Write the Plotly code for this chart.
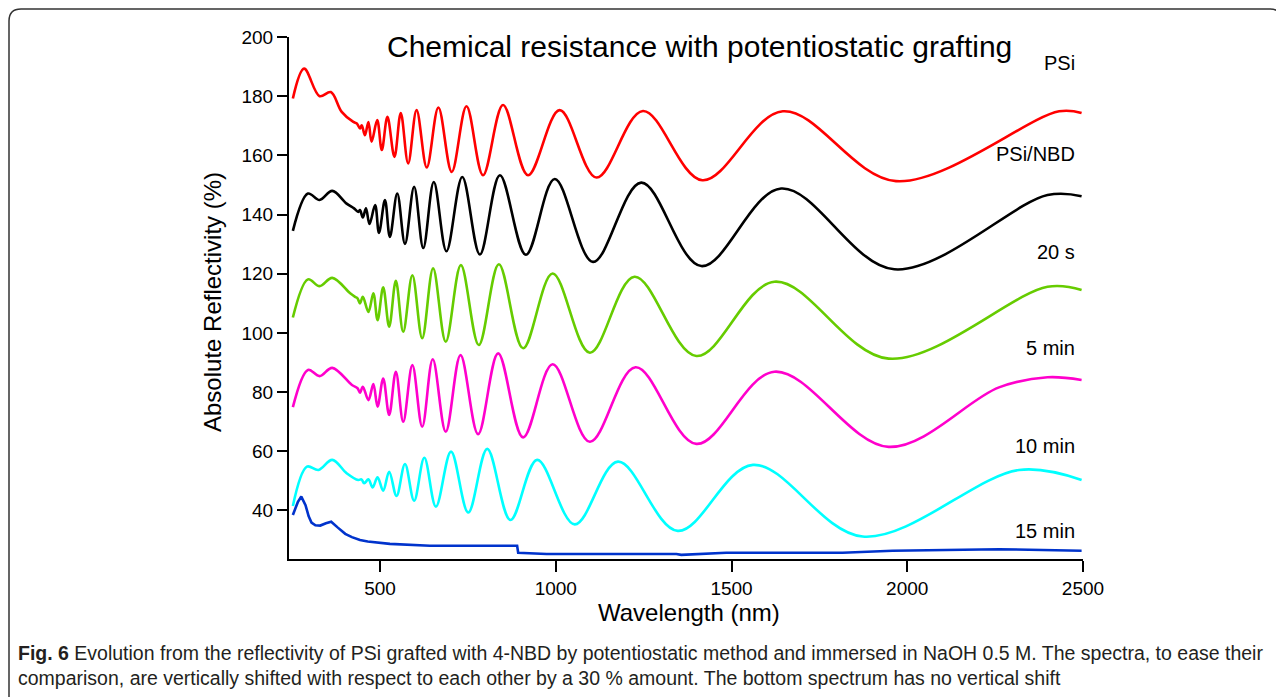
import plotly.graph_objects as go

# ---------------- data ----------------
wl_psi = [252, 284, 328, 360, 391, 424, 434, 443, 448, 457, 467, 476, 492, 505, 521, 541, 559, 580, 604, 633,
          666, 704, 746, 793, 850, 921, 1011, 1116, 1248, 1417, 1646, 1968, 2432, 2496]
r_psi = [179.2, 189.3, 180.0, 181.4, 174.7, 171.3, 170.8, 169.1, 170.2, 166.8, 171.3, 164.6, 171.9, 161.8, 173.0,
         159.5, 174.3, 157.3, 175.3, 155.9, 176.2, 154.4, 176.6, 153.3, 177.0, 153.3, 175.3, 152.5, 175.0, 151.6,
         174.9, 151.3, 174.9, 174.3]

wl_nbd = [252, 295, 328, 364, 405, 426, 438, 443, 451, 460, 470, 486, 497, 514, 528, 549, 571, 597, 623, 653,
          689, 734, 784, 841, 915, 997, 1106, 1243, 1414, 1641, 1963, 2399, 2496]
r_nbd = [134.5, 147.1, 144.9, 148.0, 143.7, 142.1, 140.9, 141.5, 139.0, 142.1, 136.8, 143.2, 133.8, 144.9, 132.4,
         147.1, 130.1, 149.4, 128.7, 151.0, 127.6, 152.7, 126.5, 153.3, 126.4, 152.0, 124.0, 150.8, 122.6, 148.8,
         121.5, 146.6, 146.2]

wl_20s = [252, 295, 328, 364, 415, 429, 436, 443, 451, 467, 481, 493, 509, 526, 545, 566, 592, 620, 651, 687,
          730, 781, 838, 907, 991, 1097, 1224, 1400, 1622, 1947, 2399, 2496]
r_20s = [105.2, 118.1, 115.8, 118.6, 113.4, 112.2, 111.7, 110.0, 112.2, 107.1, 113.4, 104.3, 115.4, 102.1, 117.6,
         100.4, 119.5, 98.2, 121.8, 97.0, 122.9, 95.9, 123.2, 94.8, 120.1, 93.3, 119.0, 92.2, 117.3, 91.3, 115.6,
         114.5]

wl_5min = [252, 295, 328, 364, 420, 436, 443, 451, 467, 481, 493, 509, 526, 545, 566, 592, 620, 650, 687, 729,
           779, 836, 907, 991, 1097, 1227, 1400, 1622, 1947, 2261, 2399, 2496]
r_5min = [74.9, 87.5, 85.4, 88.2, 82.4, 81.3, 79.8, 81.8, 77.3, 82.7, 75.1, 84.6, 72.3, 86.9, 70.0, 89.1, 68.3,
          91.1, 66.6, 92.5, 65.8, 93.1, 64.7, 89.4, 63.2, 88.4, 62.5, 86.9, 61.5, 81.6, 85.0, 84.1]

wl_10min = [252, 292, 325, 364, 405, 438, 447, 455, 467, 479, 493, 509, 526, 547, 571, 597, 626, 659, 702, 751,
            805, 871, 947, 1054, 1177, 1347, 1561, 1873, 2318, 2496]
r_10min = [41.5, 54.8, 53.7, 57.1, 52.6, 50.3, 50.5, 49.2, 50.5, 47.8, 51.2, 46.7, 53.1, 44.9, 55.7, 43.3, 57.8,
           41.3, 59.9, 39.3, 60.8, 36.8, 57.1, 35.3, 56.5, 33.1, 55.4, 31.2, 53.7, 50.3]

wl_15min = [252, 266, 276, 288, 297, 305, 316, 330, 346, 361, 380, 401, 420, 443, 465, 491, 528, 642, 784, 890,
            893, 974, 1163, 1343, 1357, 1485, 1816, 1958, 2261, 2496]
r_15min = [38.5, 42.8, 44.7, 41.8, 38.0, 35.9, 35.0, 34.9, 35.7, 36.2, 34.2, 32.1, 31.0, 30.0, 29.5, 29.1, 28.7,
           28.1, 28.1, 28.1, 25.7, 25.3, 25.3, 25.3, 25.0, 25.7, 25.7, 26.4, 26.9, 26.4]

series_names = ["PSi", "PSi/NBD", "20 s", "5 min", "10 min", "15 min"]
label_y = [191.2, 160.6, 127.2, 95.0, 61.8, 33.1]
x_ticks = [500, 1000, 1500, 2000, 2500]
y_ticks = [40, 60, 80, 100, 120, 140, 160, 180, 200]

title_text = "Chemical resistance with potentiostatic grafting"
x_title = "Wavelength (nm)"
y_title = "Absolute Reflectivity (%)"
caption_1 = ("<b>Fig. 6</b> Evolution from the reflectivity of PSi grafted with 4-NBD by potentiostatic method "
             "and immersed in NaOH 0.5 M. The spectra, to ease their")
caption_2 = ("comparison, are vertically shifted with respect to each other by a 30 % amount. "
             "The bottom spectrum has no vertical shift")

# ---------------- styling ----------------
OFF = 8                      # the page body adds an 8px margin
W, H = 1284 - OFF, 697 - OFF
ML, MR, MT, MB = 281, 201, 29, 138
PW, PH = W - ML - MR, H - MT - MB


def px(xp):
    """reference page pixel x -> paper fraction"""
    return (xp - OFF - ML) / PW


def py(yp):
    """reference page pixel y -> paper fraction"""
    return (H - MB - (yp - OFF)) / PH


FONT = "Liberation Sans, Arial, Helvetica, sans-serif"
colors = ["#ff0000", "#000000", "#66cc00", "#ff00cc", "#00ffff", "#0033cc"]
xs = [wl_psi, wl_nbd, wl_20s, wl_5min, wl_10min, wl_15min]
ys = [r_psi, r_nbd, r_20s, r_5min, r_10min, r_15min]

fig = go.Figure()
for name, x, y, c in zip(series_names, xs, ys, colors):
    shape = "linear" if name == "15 min" else "spline"
    fig.add_trace(go.Scatter(x=x, y=y, mode="lines", name=name,
                             line=dict(color=c, width=2.6, shape=shape, smoothing=1.0),
                             showlegend=False, hoverinfo="skip"))

for name, ly in zip(series_names, label_y):
    fig.add_annotation(x=2483, y=ly, xref="x", yref="y", text=name, showarrow=False,
                       xanchor="right", yanchor="middle", font=dict(family=FONT, size=20, color="black"))

fig.add_annotation(x=px(699), y=py(46), xref="paper", yref="paper", text=title_text, showarrow=False,
                   xanchor="center", yanchor="middle", font=dict(family=FONT, size=30, color="black"))
fig.add_annotation(x=px(689), y=py(612), xref="paper", yref="paper", text=x_title, showarrow=False,
                   xanchor="center", yanchor="middle", font=dict(family=FONT, size=24, color="black"))
fig.add_annotation(x=px(212), y=py(302), xref="paper", yref="paper", text=y_title, showarrow=False,
                   textangle=-90, xanchor="center", yanchor="middle",
                   font=dict(family=FONT, size=24, color="black"))

CAP_FONT = "Liberation Sans, Arial, sans-serif"
fig.add_annotation(x=px(16), y=py(653), xref="paper", yref="paper", text=caption_1, showarrow=False,
                   xanchor="left", yanchor="middle", font=dict(family=CAP_FONT, size=19.5, color="#231f20"))
fig.add_annotation(x=px(16), y=py(678), xref="paper", yref="paper", text=caption_2, showarrow=False,
                   xanchor="left", yanchor="middle", font=dict(family=CAP_FONT, size=19.5, color="#231f20"))

# rounded outer frame
x0, x1, y0, y1 = px(9), px(1282), py(9), py(720)
r, ry = 12 / PW, 12 / PH
path = (f"M {x0},{y1} L {x0},{y0 - ry} Q {x0},{y0} {x0 + r},{y0} L {x1 - r},{y0} "
        f"Q {x1},{y0} {x1},{y0 - ry} L {x1},{y1}")
fig.add_shape(type="path", path=path, xref="paper", yref="paper",
              line=dict(color="#333333", width=1.5))

fig.update_xaxes(range=[241, 2500], tickvals=x_ticks, ticks="outside", ticklen=11, tickwidth=2,
                 tickcolor="black", showline=True, linecolor="black", linewidth=2, showgrid=False,
                 zeroline=False, tickfont=dict(family=FONT, size=19, color="black"))
fig.update_yaxes(range=[23.6, 200], tickvals=y_ticks, ticks="outside", ticklen=10, tickwidth=2,
                 tickcolor="black", showline=True, linecolor="black", linewidth=2, showgrid=False,
                 zeroline=False, tickfont=dict(family=FONT, size=19, color="black"))

fig.update_layout(width=W, height=H, margin=dict(l=ML, r=MR, t=MT, b=MB),
                  paper_bgcolor="white", plot_bgcolor="white")

fig.write_html("out.html")
